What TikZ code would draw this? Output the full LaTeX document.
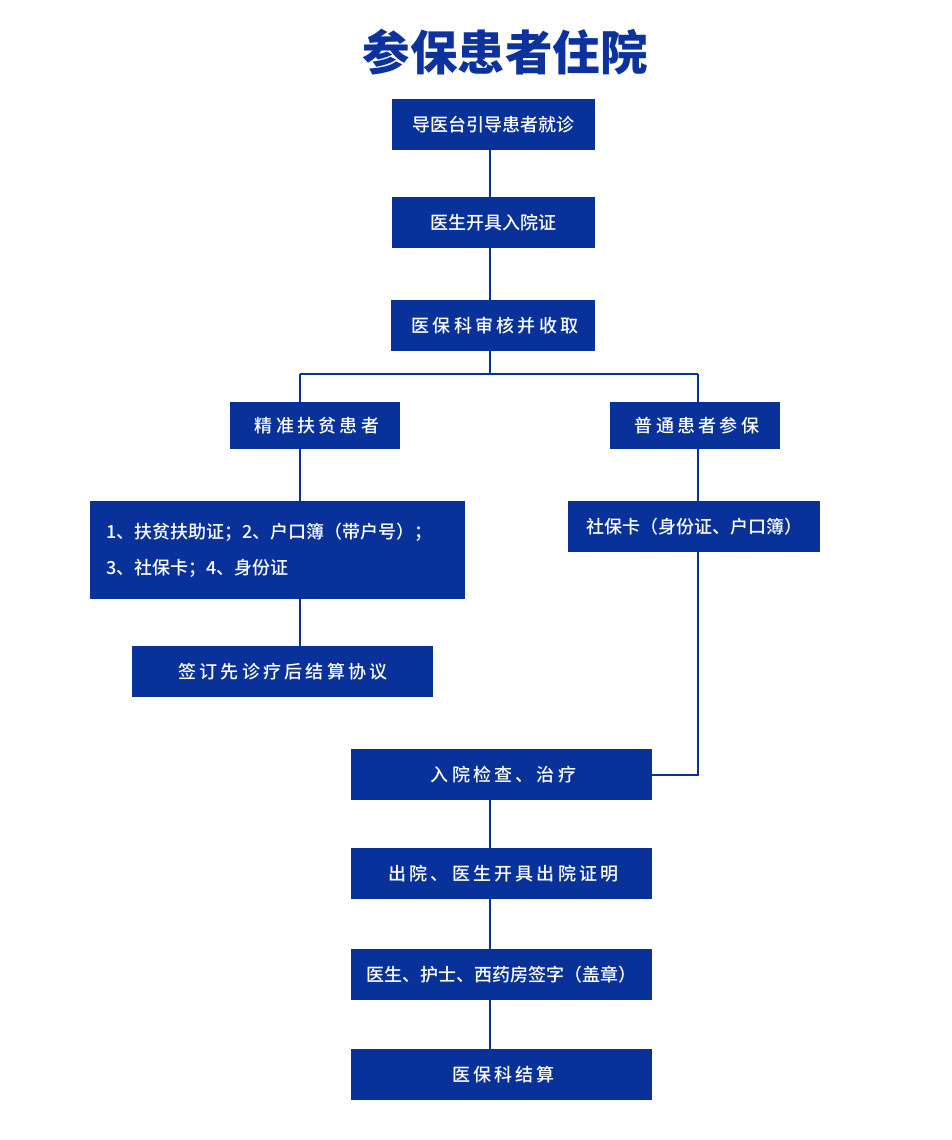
\documentclass[tikz,border=0pt]{standalone}
\usepackage{fontspec}
\newfontfamily\cjk{Noto Sans CJK SC Medium}
\newfontfamily\cjksp{Noto Sans CJK SC Medium}[LetterSpace=18]
\newfontfamily\cjktitle{Noto Sans CJK SC Black}
\definecolor{boxblue}{RGB}{8,50,153}
\definecolor{titleblue}{RGB}{12,50,158}
\tikzset{
  stepbox/.style={fill=boxblue, text=white, inner sep=0pt, font=\cjk\fontsize{18}{20}\selectfont},
  spbox/.style={stepbox, font=\cjksp\fontsize{18}{20}\selectfont},
  link/.style={draw=boxblue, line width=2pt}
}
\begin{document}
\begin{tikzpicture}[x=1pt,y=-1pt]
\useasboundingbox (0,0) rectangle (952,1140);
\node[text=titleblue, font=\cjktitle\fontsize{47.5}{50}\selectfont] (title) at (505,52) {参保患者住院};
\node[stepbox, minimum width=203, minimum height=51] (b1) at (493.5,124.5) {导医台引导患者就诊};
\node[stepbox, minimum width=203, minimum height=51] (b2) at (493.5,222.5) {医生开具入院证};
\node[spbox, minimum width=204, minimum height=51] (b3) at (493,325.5) {\hspace*{4pt}医保科审核并收取};
\node[spbox, minimum width=170, minimum height=47] (b4) at (315,425.5) {\hspace*{4pt}精准扶贫患者};
\node[spbox, minimum width=170, minimum height=47] (b5) at (695,425.5) {\hspace*{4pt}普通患者参保};
\node[stepbox, minimum width=375, minimum height=98, text width=343, align=left, font=\cjk\fontsize{18}{36}\selectfont] (b6) at (277.5,550) {1、扶贫扶助证；2、户口簿（带户号）；\\3、社保卡；4、身份证};
\node[stepbox, minimum width=252, minimum height=51] (b7) at (694,526.5) {社保卡（身份证、户口簿）};
\node[spbox, minimum width=301, minimum height=51] (b8) at (282.5,671.5) {\hspace*{1pt}签订先诊疗后结算协议};
\node[spbox, minimum width=301, minimum height=51] (b9) at (501.5,774.5) {\hspace*{4pt}入院检查、治疗};
\node[spbox, minimum width=301, minimum height=51] (b10) at (501.5,873.5) {\hspace*{4pt}出院、医生开具出院证明};
\node[stepbox, minimum width=301, minimum height=51] (b11) at (501.5,974.5) {医生、护士、西药房签字（盖章）};
\node[spbox, minimum width=301, minimum height=51] (b12) at (501.5,1074.5) {\hspace*{4pt}医保科结算};
\coordinate (cx) at (490,0);
\coordinate (lx) at (300,0);
\coordinate (rx) at (698,0);
\coordinate (split) at (490,374);
\coordinate (bend) at (698,775);
\draw[link] (b1.south -| cx) -- (b2.north -| cx);
\draw[link] (b2.south -| cx) -- (b3.north -| cx);
\draw[link] (b3.south -| cx) -- (split);
\draw[link] (split -| lx) -- (split -| rx);
\draw[link] (split -| lx) -- (b4.north -| lx);
\draw[link] (split -| rx) -- (b5.north -| rx);
\draw[link] (b4.south -| lx) -- (b6.north -| lx);
\draw[link] (b6.south -| lx) -- (b8.north -| lx);
\draw[link] (b5.south -| rx) -- (b7.north -| rx);
\draw[link] (b7.south -| rx) -- (bend) -- (b9.east |- bend);
\draw[link] (b9.south -| cx) -- (b10.north -| cx);
\draw[link] (b10.south -| cx) -- (b11.north -| cx);
\draw[link] (b11.south -| cx) -- (b12.north -| cx);
\end{tikzpicture}
\end{document}
